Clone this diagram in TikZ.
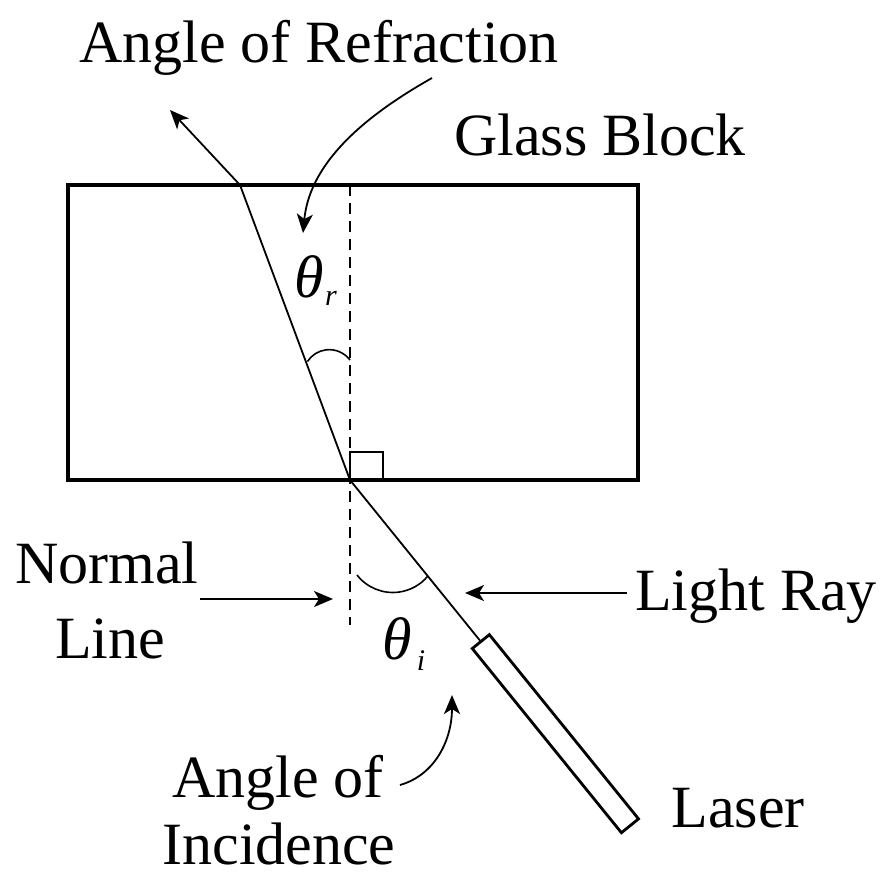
\documentclass[tikz,border=0pt]{standalone}
\usepackage{fontspec}
\setmainfont{Liberation Serif}
\usetikzlibrary{arrows.meta}
\begin{document}
\begin{tikzpicture}[x=1pt,y=-1pt,
  lbl/.style={font=\fontsize{60}{66}\selectfont, inner sep=0pt, anchor=base},
  sublbl/.style={font=\fontsize{30}{32}\selectfont\itshape, inner sep=0pt, anchor=base},
  ray/.style={line width=1.8pt},
  arr/.style={line width=1.8pt, -{Stealth[length=19pt,width=16pt,inset=5pt]}},
  normalline/.style={line width=1.8pt, dash pattern=on 11pt off 7pt},
  thin/.style={line width=1.6pt}
]
\useasboundingbox (0,0) rectangle (881,878);
% glass block
\node[draw, line width=3.5pt, minimum width=570pt, minimum height=295pt, inner sep=0pt] (glass) at (353,332.5) {};
% key points
\coordinate (V) at (350,480);
\coordinate (T) at (240,185);
\coordinate (O) at (170,110);
\coordinate (N1) at (350,185);
\coordinate (N2) at (350,625);
% normal line
\draw[normalline] (N1) -- (N2);
% rays
\draw[ray] (V) -- (T);
\draw[arr] (T) -- (O);
% laser
\node[draw, line width=2.8pt, minimum width=237pt, minimum height=22pt, inner sep=0pt, rotate=-51] (laser) at (555.4,733.7) {};
\draw[ray] (V) -- (laser.west);
% right angle mark
\draw[thin] (350,452) rectangle (383,480);
% angle arcs
\draw[thin] (350,360) arc[start angle=-37, end angle=-147, radius=26];
\draw[thin] (357,575) arc[start angle=142, end angle=40, radius=45.5];
% labels
\node[lbl] (refr) at (319,62) {Angle of Refraction};
\node[lbl] (glasslbl) at (600,155) {Glass Block};
\node[lbl] (norm) at (107,583) {Normal};
\node[lbl] (line) at (110,658) {Line};
\node[lbl] (light) at (756,610) {Light Ray};
\node[lbl] (inc1) at (278,797) {Angle of};
\node[lbl] (inc2) at (279,864) {Incidence};
\node[lbl] (laserlbl) at (738,827) {Laser};
\node[lbl, anchor=base west] (thr) at (294,297) {\itshape θ};
\node[sublbl] (thrs) at (331,305) {r};
\node[lbl, anchor=base west] (thi) at (382,659) {\itshape θ};
\node[sublbl] (this) at (421,670) {i};
% annotation arrows
\coordinate (ns) at (200,599);
\coordinate (ne) at (333,599);
\draw[arr] (ns) -- (ne);
\coordinate (ls) at (627,593);
\coordinate (le) at (465,593);
\draw[arr] (ls) -- (le);
\coordinate (rs) at (432,78);
\coordinate (re) at (303,233);
\draw[arr] (rs) .. controls (370,113) and (310,160) .. (re);
\coordinate (is) at (400,785);
\coordinate (ie) at (452,695);
\draw[arr] (is) .. controls (435,775) and (452,740) .. (ie);
\end{tikzpicture}
\end{document}
